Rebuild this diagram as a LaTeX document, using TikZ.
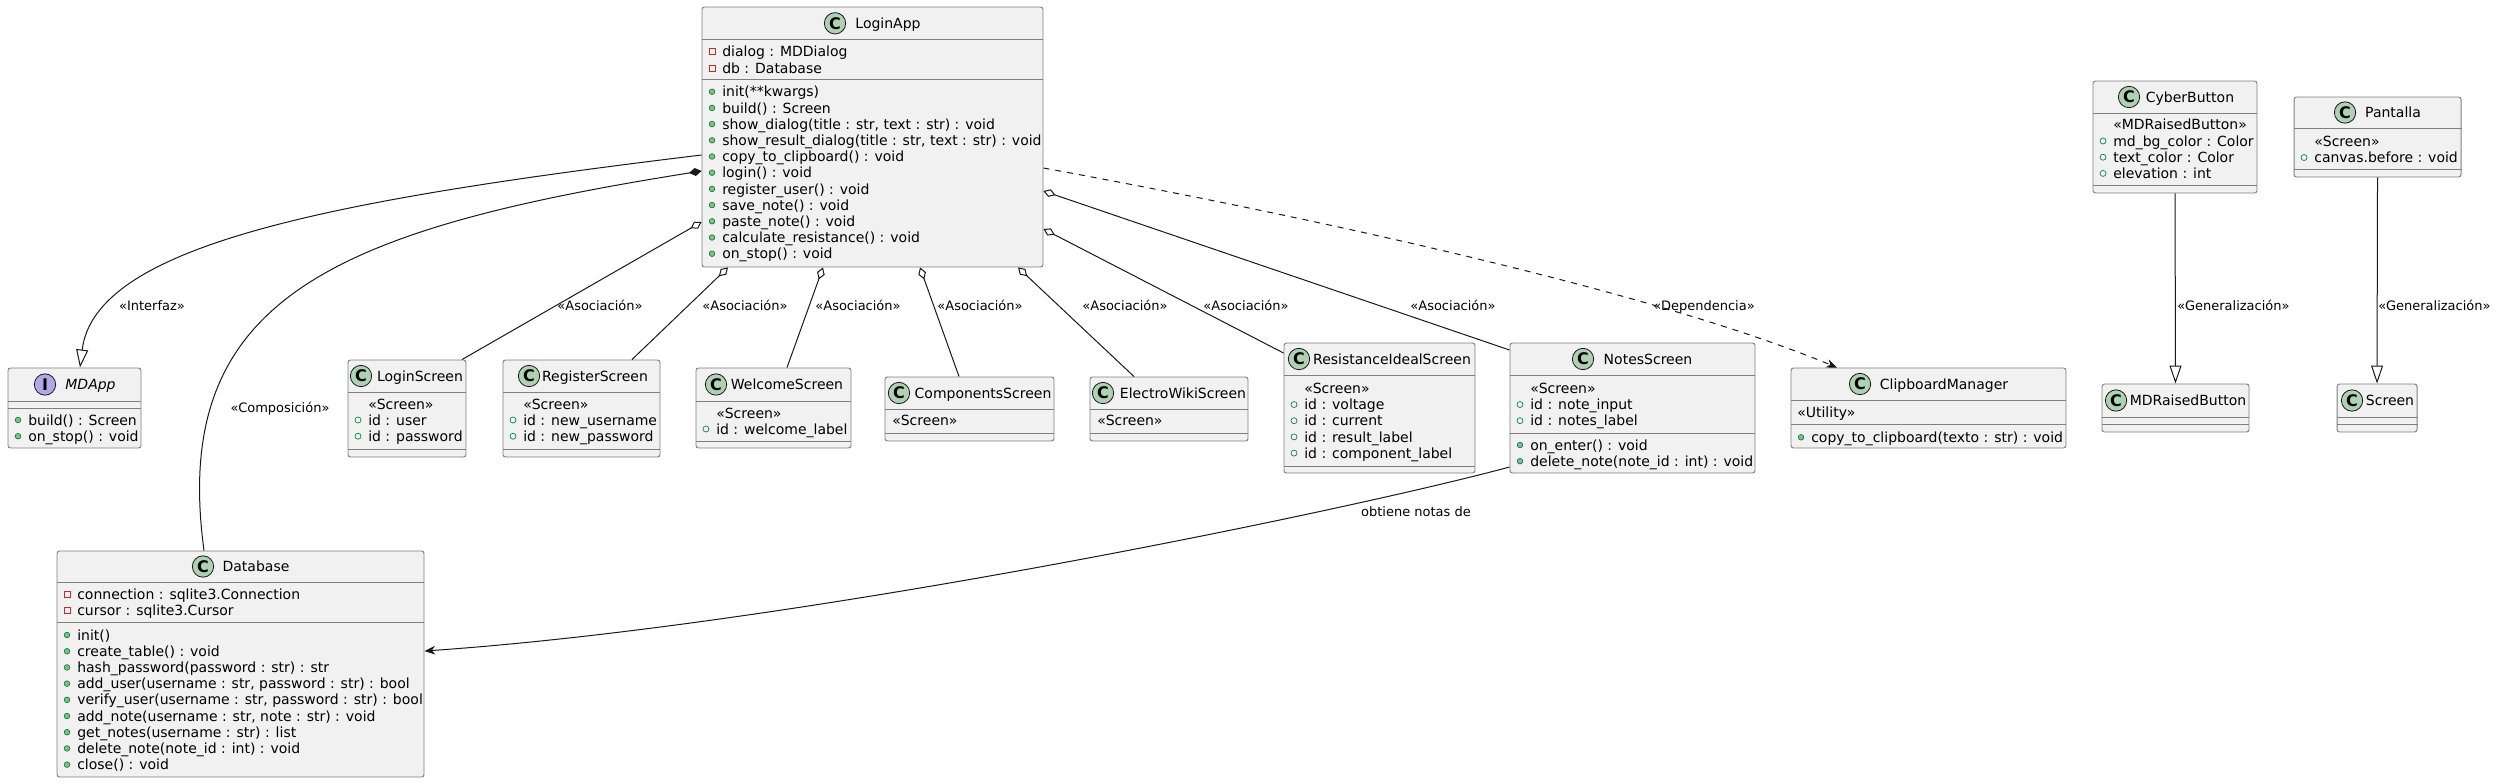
\documentclass[tikz,border=0pt]{standalone}
\usepackage{fontspec}
\setmainfont{DejaVu Sans}
\usetikzlibrary{arrows.meta,fit}
\definecolor{boxfill}{HTML}{F1F1F1}
\definecolor{boxline}{HTML}{7F7F7F}
\definecolor{ink}{HTML}{181818}
\definecolor{classc}{HTML}{ADD1B2}
\definecolor{ifacec}{HTML}{B4A7E5}
\definecolor{pubgreen}{HTML}{038048}
\definecolor{pubfill}{HTML}{84BE84}
\definecolor{privred}{HTML}{C82930}
\newcommand{\rowfont}{\fontsize{10.5}{12}\selectfont}
\newcommand{\lblfont}{\fontsize{9.75}{11}\selectfont}
\tikzset{
  box/.style={draw=boxline, fill=boxfill, line width=0.7pt, rounded corners=1.9pt, inner sep=0pt},
  divider/.style={draw=boxline, line width=0.7pt},
  circ/.style={circle, draw=ink, fill=classc, line width=0.6pt, minimum size=16pt, inner sep=0pt, font=\fontsize{12}{12}\selectfont\bfseries},
  title/.style={inner sep=0pt, font=\rowfont, text height=7.65pt, text depth=0pt},
  row/.style={title, anchor=west},
  lbl/.style={inner sep=0pt, font=\lblfont, text height=7.1pt, text depth=0pt},
  pubm/.style={circle, draw=pubgreen, fill=pubfill, minimum size=4.2pt, inner sep=0pt, line width=0.5pt},
  pubf/.style={circle, draw=pubgreen, minimum size=4.5pt, inner sep=0pt, line width=0.5pt},
  priv/.style={rectangle, draw=privred, minimum size=4.5pt, inner sep=0pt, line width=0.5pt},
  link/.style={draw=ink, line width=0.75pt},
  assoc/.style={link, {Diamond[open, length=9.5pt, width=6pt]}-},
  comp/.style={link, {Diamond[length=9.5pt, width=6pt]}-},
  gen/.style={link, -{Triangle[open, length=13.5pt, width=9pt]}},
  dep/.style={link, dash pattern=on 4.5pt off 4.5pt, -{Stealth[length=8pt, width=6.5pt, inset=2.5pt]}},
  uses/.style={link, -{Stealth[length=8pt, width=6.5pt, inset=2.5pt]}},
}
\begin{document}
\begin{tikzpicture}[x=0.75pt, y=-0.75pt]
\useasboundingbox (0,0) rectangle (2497,783);

% class boxes
\node[box, fit={(702,7) (1043,267)}] (loginapp) {};
\node[box, fit={(8,368) (141,448)}] (mdapp) {};
\node[box, fit={(348,360) (466,457)}] (loginscr) {};
\node[box, fit={(503,360) (660,457)}] (registerscr) {};
\node[box, fit={(696,368) (851,448)}] (welcomescr) {};
\node[box, fit={(885,377) (1054,441)}] (componentsscr) {};
\node[box, fit={(1090,377) (1248,441)}] (wikiscr) {};
\node[box, fit={(1284,343) (1475,473)}] (resistscr) {};
\node[box, fit={(1510,343) (1755,473)}] (notesscr) {};
\node[box, fit={(1791,368) (2066,448)}] (clipboard) {};
\node[box, fit={(57,551) (424,777)}] (database) {};
\node[box, fit={(2093,81) (2257,193)}] (cyberbtn) {};
\node[box, fit={(2294,97) (2461,177)}] (pantalla) {};
\node[box, fit={(2102,384) (2249,432)}] (raisedbtn) {};
\node[box, fit={(2337,384) (2417,432)}] (screen) {};

\foreach \n/\a/\b in {loginapp/39.3/79.3, mdapp/401/408, loginscr/392/449, registerscr/392/449, welcomescr/401/441, componentsscr/409/433, wikiscr/409/433, resistscr/375/466, notesscr/375/433, clipboard/400/424, database/582/622, cyberbtn/113/185.3, pantalla/128/169, raisedbtn/417/424, screen/417/424}
  {\draw[divider] (\n.west |- 0,\a) -- (\n.east |- 0,\a) (\n.west |- 0,\b) -- (\n.east |- 0,\b);}

% headers
\foreach \x/\y/\cx/\t in {835/23.3/888/LoginApp, 361/376/420/LoginScreen, 529/376/595/RegisterScreen, 716/384.5/787/WelcomeScreen, 899/393/983/ComponentsScreen, 1103/393/1183/ElectroWikiScreen, 1299/359/1392/ResistanceIdealScreen, 1583/359/1648/NotesScreen, 1860/384/1944/ClipboardManager, 203/566.5/256/Database, 2129/97/2190/CyberButton, 2345/112.5/2393/Pantalla, 2116/400.5/2188/MDRaisedButton, 2352/400.5/2390/Screen}
  {\node[circ] at (\x,\y) {C}; \node[title] at (\cx,\y) {\t};}
\node[circ, fill=ifacec] at (45,384.5) {I};
\node[title, font=\rowfont\itshape] at (90.5,384.5) {MDApp};

% LoginApp
\foreach \t [count=\i] in {dialog : MDDialog, db : Database}
  {\node[priv] at (712,{35.5+16.2*\i}) {}; \node[row] at (722,{35.5+16.2*\i}) {\t};}
\foreach \t [count=\i] in {{init(**kwargs)}, {build() : Screen}, {show\_dialog(title : str, text : str) : void}, {show\_result\_dialog(title : str, text : str) : void}, {copy\_to\_clipboard() : void}, {login() : void}, {register\_user() : void}, {save\_note() : void}, {paste\_note() : void}, {calculate\_resistance() : void}, {on\_stop() : void}}
  {\node[pubm] at (712,{75.5+16.2*\i}) {}; \node[row] at (722,{75.5+16.2*\i}) {\t};}

% MDApp
\foreach \t [count=\i] in {{build() : Screen}, {on\_stop() : void}}
  {\node[pubm] at (18,{403.8+16.2*\i}) {}; \node[row] at (28,{403.8+16.2*\i}) {\t};}

% Database
\foreach \t [count=\i] in {connection : sqlite3.Connection, cursor : sqlite3.Cursor}
  {\node[priv] at (67,{578.1+16.2*\i}) {}; \node[row] at (77,{578.1+16.2*\i}) {\t};}
\foreach \t [count=\i] in {{init()}, {create\_table() : void}, {hash\_password(password : str) : str}, {add\_user(username : str, password : str) : bool}, {verify\_user(username : str, password : str) : bool}, {add\_note(username : str, note : str) : void}, {get\_notes(username : str) : list}, {delete\_note(note\_id : int) : void}, {close() : void}}
  {\node[pubm] at (67,{618.8+16.2*\i}) {}; \node[row] at (77,{618.8+16.2*\i}) {\t};}

% screens
\node[row] at (368,404) {«Screen»};
\foreach \t [count=\i] in {id : user, id : password}
  {\node[pubf] at (358,{403.8+16.2*\i}) {}; \node[row] at (368,{403.8+16.2*\i}) {\t};}
\node[row] at (523,404) {«Screen»};
\foreach \t [count=\i] in {id : new\_username, id : new\_password}
  {\node[pubf] at (513,{403.8+16.2*\i}) {}; \node[row] at (523,{403.8+16.2*\i}) {\t};}
\node[row] at (716,413) {«Screen»};
\node[pubf] at (706,429) {}; \node[row] at (716,429) {id : welcome\_label};
\node[row] at (892,420) {«Screen»};
\node[row] at (1097,420) {«Screen»};
\node[row] at (1304,388.3) {«Screen»};
\foreach \t [count=\i] in {id : voltage, id : current, id : result\_label, id : component\_label}
  {\node[pubf] at (1294,{388.3+16.2*\i}) {}; \node[row] at (1304,{388.3+16.2*\i}) {\t};}
\node[row] at (1530,388.3) {«Screen»};
\foreach \t [count=\i] in {id : note\_input, id : notes\_label}
  {\node[pubf] at (1520,{388.3+16.2*\i}) {}; \node[row] at (1530,{388.3+16.2*\i}) {\t};}
\foreach \t [count=\i] in {{on\_enter() : void}, {delete\_note(note\_id : int) : void}}
  {\node[pubm] at (1520,{428.8+16.2*\i}) {}; \node[row] at (1530,{428.8+16.2*\i}) {\t};}

% others
\node[row] at (1797,412) {«Utility»};
\node[pubm] at (1801,437.3) {}; \node[row] at (1811,437.3) {copy\_to\_clipboard(texto : str) : void};
\node[row] at (2113,124.5) {«MDRaisedButton»};
\foreach \t [count=\i] in {md\_bg\_color : Color, text\_color : Color, elevation : int}
  {\node[pubf] at (2103,{124.8+16.2*\i}) {}; \node[row] at (2113,{124.8+16.2*\i}) {\t};}
\node[row] at (2314,141.3) {«Screen»};
\node[pubf] at (2304,157.5) {}; \node[row] at (2314,157.5) {canvas.before : void};

% connectors
\draw[gen] (loginapp.west |- 0,155) .. controls (330,200) and (95,245) .. (mdapp.north -| 80,0);
\draw[comp] (loginapp.west |- 0,171) .. controls (330,230) and (170,300) .. (database.north -| 204,0);
\draw[assoc] (loginapp.west |- 0,222) -- (loginscr.north -| 462,0);
\draw[assoc] (loginapp.south -| 728,0) -- (registerscr.north -| 632,0);
\draw[assoc] (loginapp.south -| 823,0) -- (welcomescr.north -| 787,0);
\draw[assoc] (loginapp.south -| 920,0) -- (componentsscr.north -| 959,0);
\draw[assoc] (loginapp.south -| 1018,0) -- (wikiscr.north -| 1134,0);
\draw[assoc] (loginapp.east |- 0,229) -- (resistscr.west |- 0,353);
\draw[assoc] (loginapp.east |- 0,191) -- (notesscr.west |- 0,350);
\draw[dep] (loginapp.east |- 0,168) .. controls (1300,215) and (1650,290) .. (clipboard.north -| 1837,0);
\draw[uses] (notesscr.west |- 0,467) .. controls (1350,510) and (800,625) .. (database.east |- 0,651);
\draw[gen] (cyberbtn.south) -- (raisedbtn.north);
\draw[gen] (pantalla.south) -- (screen.north);

% labels
\node[lbl] at (152,306) {«Interfaz»};
\node[lbl] at (280,408) {«Composición»};
\foreach \x in {600,745,858,980,1125,1246,1453}
  {\node[lbl] at (\x,306) {«Asociación»};}
\node[lbl] at (1704,306) {«Dependencia»};
\node[lbl] at (1416,512) {obtiene notas de};
\node[lbl, anchor=west] at (2177,306) {«Generalización»};
\node[lbl, anchor=west] at (2378,306) {«Generalización»};

\end{tikzpicture}
\end{document}
